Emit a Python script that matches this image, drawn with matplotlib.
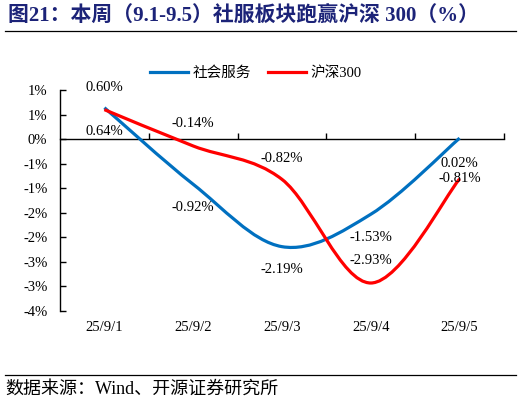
import matplotlib
matplotlib.use("Agg")
import matplotlib.pyplot as plt
from matplotlib.path import Path
from matplotlib.patches import PathPatch
import numpy as np

categories = ["25/9/1", "25/9/2", "25/9/3", "25/9/4", "25/9/5"]
social = [0.64, -0.92, -2.19, -1.53, 0.02]
hs300 = [0.60, -0.14, -0.82, -2.93, -0.81]
ytick_vals = [1.0, 0.5, 0.0, -0.5, -1.0, -1.5, -2.0, -2.5, -3.0, -3.5]
ytick_labels = ["1%", "1%", "0%", "-1%", "-1%", "-2%", "-2%", "-3%", "-3%", "-4%"]
social_lbl = ["0.64%", "-0.92%", "-2.19%", "-1.53%", "0.02%"]
hs300_lbl = ["0.60%", "-0.14%", "-0.82%", "-2.93%", "-0.81%"]
# label vertical offsets in points (style)
social_off = [-17, -17, -16.5, -17, -18]
hs300_off = [16, 16, 15, 16, 0]

BLUE = "#0070C0"
RED = "#FF0000"
NAVY = "#1C2378"
SERIF = ["Liberation Serif", "Noto Sans CJK SC"]
CJK = ["Noto Sans CJK SC", "Liberation Serif"]

fig = plt.figure(figsize=(5.22, 4.05), dpi=100)
ax = fig.add_axes([60/522, 1-311/405, 444/522, 221/405])


def smooth_path(xs, ys):
    pts = np.column_stack([xs, ys]).astype(float)
    n = len(pts)
    verts = [pts[0]]
    codes = [Path.MOVETO]
    for i in range(n - 1):
        p0 = pts[i - 1] if i > 0 else pts[i]
        p1 = pts[i]
        p2 = pts[i + 1]
        p3 = pts[i + 2] if i + 2 < n else pts[i + 1]
        c1 = p1 + (p2 - p0) / 6.0
        c2 = p2 - (p3 - p1) / 6.0
        verts += [c1, c2, p2]
        codes += [Path.CURVE4] * 3
    return Path(verts, codes)


x = np.arange(len(categories))
for ys, col in [(social, BLUE), (hs300, RED)]:
    ax.add_patch(PathPatch(smooth_path(x, ys), facecolor="none", edgecolor=col,
                           lw=2.3, capstyle="butt", zorder=3))

# legend proxies
ax.plot([], [], color=BLUE, lw=2.3, label="社会服务")
ax.plot([], [], color=RED, lw=2.3, label="沪深300")
leg = fig.legend(loc="center", bbox_to_anchor=(256/522, 1-73/405), ncol=2,
                 frameon=False, prop={"family": SERIF, "size": 10.5},
                 handlelength=2.6, handletextpad=0.3, columnspacing=1.2)

for i in range(len(categories)):
    ax.annotate(social_lbl[i], (x[i], social[i]), xytext=(0, social_off[i]),
                textcoords="offset points", ha="center", va="center",
                fontsize=10.5, family=SERIF, zorder=4)
    ax.annotate(hs300_lbl[i], (x[i], hs300[i]), xytext=(0, hs300_off[i]),
                textcoords="offset points", ha="center", va="center",
                fontsize=10.5, family=SERIF, zorder=4)

ax.set_xlim(-0.5, len(categories) - 0.5)
ax.set_ylim(-3.5, 1.0)

for s in ["top", "right"]:
    ax.spines[s].set_visible(False)
ax.spines["bottom"].set_position(("data", 0))
ax.spines["bottom"].set_linewidth(1.0)
ax.spines["left"].set_linewidth(1.0)
ax.spines["left"].set_bounds(-3.5, 1.0)

ax.set_yticks(ytick_vals)
ax.set_yticklabels(ytick_labels, family=SERIF, fontsize=10.5)
ax.tick_params(axis="y", direction="in", length=4, width=1, pad=9)

ax.set_xticks(x)
ax.set_xticklabels([])
ax.tick_params(axis="x", which="major", length=0)
ax.set_xticks(x + 0.5, minor=True)
ax.tick_params(axis="x", which="minor", direction="in", length=4, width=1)

for i, c in enumerate(categories):
    ax.text(x[i], -0.075, c, transform=ax.get_xaxis_transform(), ha="center",
            va="center", fontsize=10.5, family=SERIF)

# title & source
fig.text(8/522, 1-17/405, "图21：本周（9.1-9.5）社服板块跑赢沪深 300（%）",
         fontsize=15, fontweight="bold", color=NAVY, family=SERIF,
         ha="left", va="center")
fig.add_artist(plt.Line2D([5/522, 516/522], [1-31/405, 1-31/405], color="black", lw=0.9))
fig.add_artist(plt.Line2D([5/522, 516/522], [1-375/405, 1-375/405], color="black", lw=0.9))
fig.text(5/522, 1-389/405, "数据来源：Wind、开源证券研究所", fontsize=13,
         family=SERIF, ha="left", va="center")

fig.savefig("out.png", dpi=100)
